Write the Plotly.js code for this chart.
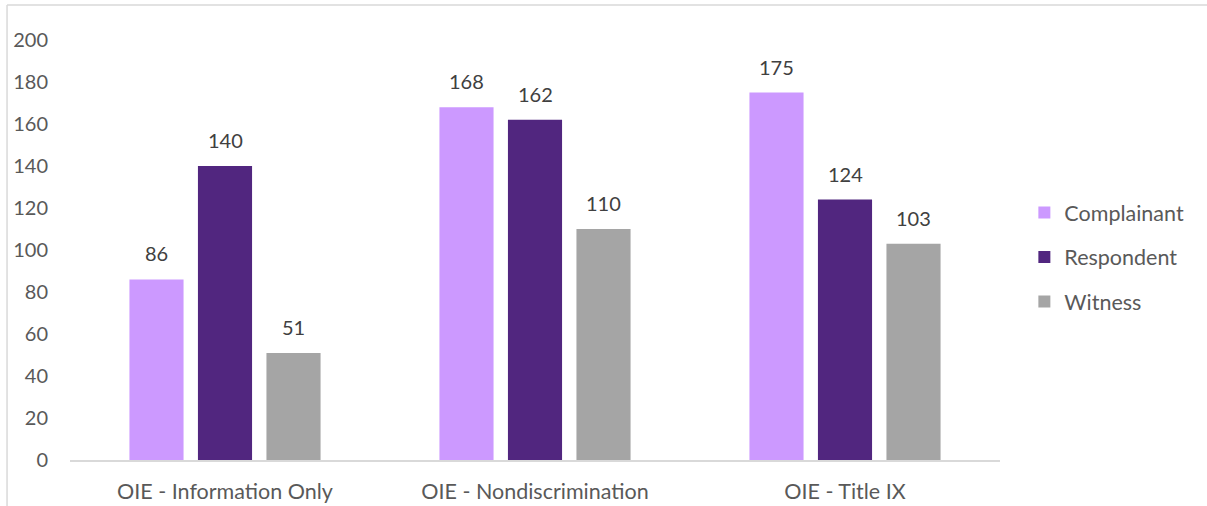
<!DOCTYPE html>
<html>
<head>
<meta charset="utf-8">
<script src="https://cdn.plot.ly/plotly-3.0.1.min.js"></script>
<style>html,body{margin:0;padding:0;background:#fff;}#chart{width:1207px;height:506px;}</style>
</head>
<body>
<div id="chart"></div>
<script>
const categories = ["OIE - Information Only", "OIE - Nondiscrimination", "OIE - Title IX"];
const complainant = [86, 168, 175];
const respondent = [140, 162, 124];
const witness = [51, 110, 103];
const seriesNames = ["Complainant", "Respondent", "Witness"];
const seriesColors = ["#cc99ff", "#51267f", "#a5a5a5"];
const yTicks = [0, 20, 40, 60, 80, 100, 120, 140, 160, 180, 200];

const FONT = "Lato, 'Open Sans', sans-serif";
const seriesData = [complainant, respondent, witness];

const W = 1207, H = 506;
const margin = {l: 70, r: 207, t: 40, b: 46};
const bargap = 0.337, bargroupgap = 0.21;

const traces = seriesData.map((vals, i) => ({
  type: "bar",
  name: seriesNames[i],
  x: categories,
  y: vals,
  marker: {color: seriesColors[i], line: {width: 0}},
  legendgroup: "g" + i,
  hoverinfo: "x+y+name"
}));

// data labels as annotations, horizontally offset to each bar's slot in the group
const plotW = W - margin.l - margin.r;
const catW = plotW / categories.length;
const slotW = catW * (1 - bargap) / seriesData.length;
const annotations = [];
seriesData.forEach((vals, i) => {
  vals.forEach((v, j) => {
    annotations.push({
      x: categories[j], y: v, xref: "x", yref: "y",
      xshift: (i - (seriesData.length - 1) / 2) * slotW,
      yshift: 26, yanchor: "middle", xanchor: "center",
      text: String(v), showarrow: false,
      font: {family: FONT, size: 20, color: "#404040"}
    });
  });
});

const layout = {
  width: W, height: H,
  margin: margin,
  paper_bgcolor: "#ffffff",
  plot_bgcolor: "#ffffff",
  barmode: "group",
  bargap: bargap,
  bargroupgap: bargroupgap,
  showlegend: true,
  legend: {
    x: 1.0262, y: 0.483, xanchor: "left", yanchor: "middle",
    font: {family: FONT, size: 21.5, color: "#595959"},
    tracegroupgap: 13.5,
    itemwidth: 30,
    bgcolor: "rgba(0,0,0,0)"
  },
  xaxis: {
    showline: true, linecolor: "#d9d9d9", linewidth: 1.5,
    ticks: "", showgrid: false, zeroline: false,
    ticklabelstandoff: 12,
    tickfont: {family: FONT, size: 21.5, color: "#595959"},
    automargin: false
  },
  yaxis: {
    range: [0, 200],
    tickvals: yTicks,
    ticktext: yTicks.map(String),
    showgrid: false, zeroline: false, showline: false,
    ticks: "", ticklabelstandoff: 21,
    tickfont: {family: FONT, size: 20, color: "#595959"},
    automargin: false
  },
  annotations: annotations,
  shapes: [
    {type: "line", xref: "paper", yref: "paper", x0: -0.0677, x1: 1.23, y0: 1.0833, y1: 1.0833, line: {color: "#d9d9d9", width: 1.5}},
    {type: "line", xref: "paper", yref: "paper", x0: -0.0677, x1: -0.0677, y0: 1.0833, y1: -0.12, line: {color: "#d9d9d9", width: 1.5}}
  ]
};

Plotly.newPlot("chart", traces, layout, {displayModeBar: false, staticPlot: true});
</script>
</body>
</html>
